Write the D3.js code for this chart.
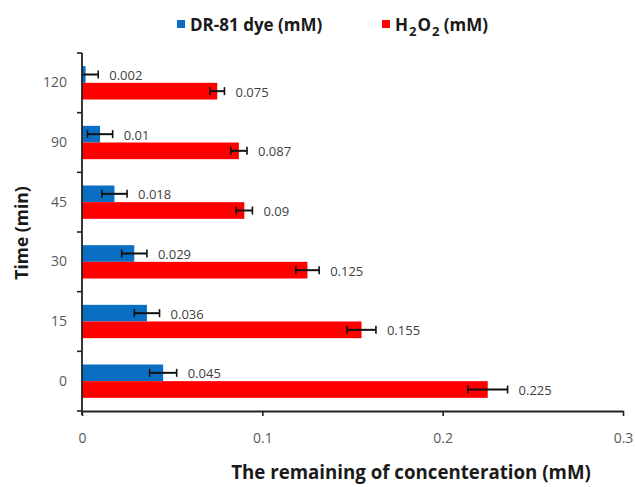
<!DOCTYPE html>
<html>
<head>
<meta charset="utf-8">
<script src="https://cdn.jsdelivr.net/npm/d3@7/dist/d3.min.js"></script>
<style>
  html, body { margin: 0; padding: 0; background: #fff; }
  svg { display: block; font-family: "Open Sans", "Liberation Sans", sans-serif; }
</style>
</head>
<body>
<svg id="chart" width="635" height="487"></svg>
<script>
// Time points (min), listed bottom to top
const times = ["0", "15", "30", "45", "90", "120"];
// Remaining concentrations (mM)
const dyeValues  = [0.045, 0.036, 0.029, 0.018, 0.01, 0.002];
const h2o2Values = [0.225, 0.155, 0.125, 0.09, 0.087, 0.075];
// Error bar half-widths (mM)
const dyeErrors  = [0.0075, 0.007, 0.007, 0.007, 0.007, 0.007];
const h2o2Errors = [0.011, 0.008, 0.0065, 0.0045, 0.0045, 0.004];
const xTicks = [0, 0.1, 0.2, 0.3];

const series = [
  { key: "dye",  values: dyeValues,  errors: dyeErrors,  color: "#0a6fc2" },
  { key: "h2o2", values: h2o2Values, errors: h2o2Errors, color: "#ff0000" }
];

const svg = d3.select("#chart");
const plotLeft = 82, plotRight = 623, plotTop = 53, plotBottom = 411;

const x = d3.scaleLinear().domain([0, 0.3]).range([plotLeft, plotRight]);
const y = d3.scaleBand().domain(times).range([plotBottom, plotTop]).padding(0);
const ySub = d3.scaleBand().domain(series.map(s => s.key))
  .range([0, y.bandwidth()]).paddingInner(0).paddingOuter(0.79);

// Bars, error bars and value labels
series.forEach(s => {
  const g = svg.append("g");
  const rows = times.map((t, i) => ({ t, v: s.values[i], e: s.errors[i] }));
  g.selectAll("rect").data(rows).join("rect")
    .attr("x", x(0))
    .attr("y", d => y(d.t) + ySub(s.key))
    .attr("width", d => x(d.v) - x(0))
    .attr("height", ySub.bandwidth())
    .attr("fill", s.color);

  const eb = g.selectAll("g.err").data(rows).join("g").attr("class", "err")
    .attr("transform", d => `translate(0,${y(d.t) + ySub(s.key) + ySub.bandwidth() / 2})`);
  eb.append("line")
    .attr("x1", d => x(Math.max(0, d.v - d.e))).attr("x2", d => x(d.v + d.e))
    .attr("stroke", "#111").attr("stroke-width", 2);
  eb.filter(d => d.v - d.e > 0).append("line")
    .attr("x1", d => x(d.v - d.e)).attr("x2", d => x(d.v - d.e))
    .attr("y1", -4).attr("y2", 4).attr("stroke", "#111").attr("stroke-width", 1.6);
  eb.append("line")
    .attr("x1", d => x(d.v + d.e)).attr("x2", d => x(d.v + d.e))
    .attr("y1", -4).attr("y2", 4).attr("stroke", "#111").attr("stroke-width", 1.6);
  eb.append("text")
    .attr("x", d => x(d.v + d.e) + 11)
    .attr("y", 1)
    .attr("dy", "0.35em")
    .attr("font-size", 13)
    .attr("fill", "#404040")
    .text(d => d.v);
});

// X axis
const xAxis = svg.append("g")
  .attr("transform", `translate(0,${plotBottom})`)
  .call(d3.axisBottom(x).tickValues(xTicks).tickFormat(d => d === 0 ? "0" : d3.format(".1f")(d))
    .tickSize(5).tickSizeOuter(0).tickPadding(17));
xAxis.select(".domain").attr("stroke", "#222").attr("stroke-width", 1.8);
xAxis.selectAll(".tick line").attr("stroke", "#222").attr("stroke-width", 1.6);
xAxis.selectAll("text").attr("font-size", 14).attr("fill", "#595959")
  .attr("font-family", "'Open Sans', sans-serif");

// Y axis: labels at band centres, tick marks at band boundaries
const yAxis = svg.append("g")
  .attr("transform", `translate(${plotLeft},0)`)
  .call(d3.axisLeft(y).tickSize(0).tickPadding(15));
yAxis.select(".domain").remove();
yAxis.selectAll("text").attr("font-size", 14).attr("fill", "#595959")
  .attr("font-family", "'Open Sans', sans-serif");
svg.append("line")
  .attr("x1", plotLeft).attr("x2", plotLeft).attr("y1", plotTop).attr("y2", plotBottom + 4)
  .attr("stroke", "#222").attr("stroke-width", 1.8);
const bounds = times.map(t => y(t)).concat([plotBottom]);
svg.append("g").selectAll("line").data(bounds).join("line")
  .attr("x1", plotLeft - 5).attr("x2", plotLeft)
  .attr("y1", d => d).attr("y2", d => d)
  .attr("stroke", "#222").attr("stroke-width", 1.6);

// Axis titles
svg.append("text")
  .attr("x", 411).attr("y", 479)
  .attr("text-anchor", "middle")
  .attr("font-size", 18.7).attr("font-weight", "bold").attr("fill", "#1a1a1a")
  .text("The remaining of concenteration (mM)");
svg.append("text")
  .attr("transform", "translate(28,233) rotate(-90)")
  .attr("text-anchor", "middle")
  .attr("font-size", 17.5).attr("font-weight", "bold").attr("fill", "#1a1a1a")
  .text("Time (min)");

// Legend
const legend = svg.append("g").attr("font-size", 17).attr("font-weight", "bold").attr("fill", "#1a1a1a");
legend.append("rect").attr("x", 177).attr("y", 20).attr("width", 8).attr("height", 8).attr("fill", series[0].color);
legend.append("text").attr("x", 190).attr("y", 31).text("DR-81 dye (mM)");
legend.append("rect").attr("x", 382).attr("y", 20).attr("width", 8).attr("height", 8).attr("fill", series[1].color);
const h = legend.append("text").attr("x", 395).attr("y", 31);
h.append("tspan").text("H");
h.append("tspan").attr("font-size", 13).attr("dy", 5).attr("dx", 1).text("2");
h.append("tspan").attr("dy", -5).attr("dx", 1).text("O");
h.append("tspan").attr("font-size", 13).attr("dy", 5).attr("dx", 1).text("2");
h.append("tspan").attr("dy", -5).text(" (mM)");
</script>
</body>
</html>
